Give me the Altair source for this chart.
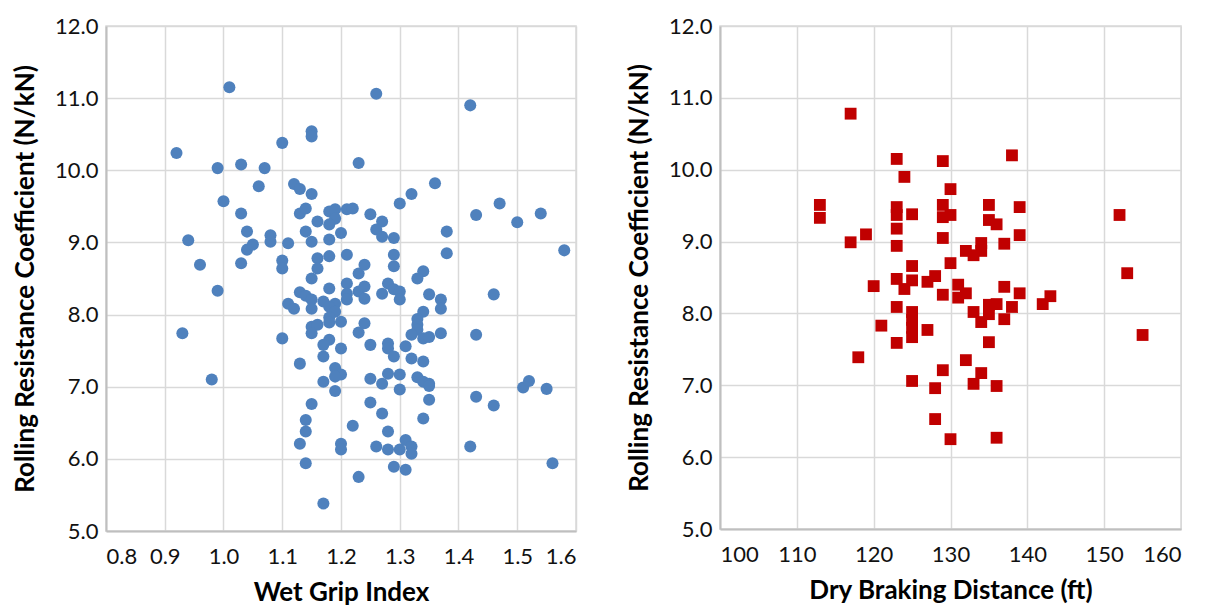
import altair as alt
import pandas as pd

# ---- Left panel: Wet Grip Index vs Rolling Resistance Coefficient ----
wgi = [0.92,0.94,0.93,0.96,0.98,0.99,0.99,1.00,1.01,1.03,
       1.03,1.03,1.04,1.04,1.05,1.06,1.07,1.08,1.08,1.10,
       1.10,1.10,1.11,1.10,1.11,1.12,1.12,1.13,1.15,1.15,
       1.13,1.14,1.15,1.18,1.19,1.19,1.16,1.18,1.20,1.18,
       1.21,1.22,1.14,1.15,1.21,1.18,1.16,1.16,1.15,1.23,
       1.18,1.13,1.14,1.15,1.15,1.17,1.19,1.18,1.19,1.21,
       1.21,1.21,1.23,1.23,1.26,1.42,1.36,1.32,1.30,1.47,
       1.43,1.50,1.54,1.38,1.38,1.58,1.25,1.27,1.26,1.27,
       1.29,1.29,1.29,1.24,1.34,1.33,1.28,1.27,1.29,1.30,
       1.30,1.24,1.24,1.35,1.37,1.37,1.46,1.20,1.18,1.18,
       1.15,1.16,1.15,1.34,1.33,1.33,1.33,1.24,1.23,1.32,
       1.34,1.35,1.37,1.43,1.25,1.28,1.28,1.29,1.31,1.32,
       1.34,1.18,1.17,1.17,1.20,1.13,1.19,1.20,1.19,1.17,
       1.19,1.25,1.27,1.28,1.30,1.33,1.34,1.35,1.35,1.30,
       1.35,1.43,1.46,1.51,1.52,1.55,1.25,1.27,1.34,1.22,
       1.28,1.20,1.20,1.26,1.28,1.30,1.31,1.32,1.32,1.42,
       1.29,1.31,1.23,1.56,1.17,1.15,1.14,1.14,1.13,1.14]
rrc_left = [10.24,9.03,7.74,8.69,7.10,8.33,10.03,9.57,11.15,10.08,
            9.40,8.71,9.15,8.90,8.97,9.78,10.03,9.10,9.01,10.38,
            8.75,8.64,8.99,7.67,8.15,8.08,9.81,9.74,10.54,10.47,
            9.40,9.47,9.67,9.43,9.46,9.33,9.29,9.25,9.13,9.04,
            9.46,9.47,9.15,9.01,8.83,8.81,8.78,8.64,8.50,8.57,
            8.36,8.31,8.26,8.21,8.08,8.18,8.15,8.11,8.04,8.43,
            8.29,8.21,8.32,10.10,11.06,10.90,9.82,9.67,9.54,9.54,
            9.38,9.28,9.40,9.15,8.85,8.89,9.39,9.29,9.18,9.08,
            9.06,8.83,8.67,8.69,8.60,8.50,8.43,8.29,8.35,8.32,
            8.21,8.39,8.22,8.28,8.21,8.08,8.28,7.90,7.96,7.89,
            7.83,7.86,7.74,8.04,7.94,7.86,7.79,7.88,7.75,7.72,
            7.67,7.69,7.74,7.72,7.58,7.60,7.53,7.42,7.56,7.39,
            7.35,7.65,7.58,7.42,7.53,7.32,7.26,7.17,7.14,7.07,
            6.94,7.11,7.04,7.18,7.17,7.13,7.07,7.04,7.01,6.96,
            6.82,6.86,6.74,6.99,7.08,6.97,6.78,6.63,6.56,6.46,
            6.38,6.21,6.13,6.17,6.13,6.13,6.26,6.17,6.07,6.17,
            5.89,5.85,5.75,5.94,5.38,6.76,6.54,6.38,6.21,5.94]

# ---- Right panel: Dry Braking Distance vs Rolling Resistance Coefficient ----
dbd = [117,123,129,124,113,113,123,123,125,129,
       129,130,123,119,117,123,129,125,123,125,
       127,128,124,120,129,138,130,135,139,135,
       136,139,137,152,132,133,134,134,130,153,
       137,139,131,132,131,143,142,135,136,123,
       121,125,125,125,125,127,123,118,129,125,
       128,128,130,133,135,134,138,137,135,155,
       132,134,133,136,136]
rrc_right = [10.78,10.15,10.12,9.90,9.51,9.33,9.48,9.37,9.38,9.51,
             9.34,9.73,9.18,9.10,8.99,8.94,9.05,8.66,8.48,8.46,
             8.44,8.52,8.34,8.38,8.26,10.20,9.37,9.51,9.48,9.30,
             9.24,9.09,8.97,9.37,8.87,8.81,8.98,8.87,8.70,8.56,
             8.37,8.28,8.40,8.28,8.22,8.24,8.13,8.12,8.13,8.09,
             7.83,8.02,7.91,7.80,7.67,7.77,7.59,7.39,7.21,7.06,
             6.96,6.53,6.25,8.02,7.99,7.88,8.09,7.92,7.60,7.70,
             7.35,7.17,7.02,6.99,6.27]

x_left_ticks = [0.8, 0.9, 1.0, 1.1, 1.2, 1.3, 1.4, 1.5, 1.6]
x_right_ticks = [100, 110, 120, 130, 140, 150, 160]
y_ticks = [5, 6, 7, 8, 9, 10, 11, 12]

y_title = "Rolling Resistance Coefficient (N/kN)"
FONT = "Lato"

left_df = pd.DataFrame({"wgi": wgi, "rrc": rrc_left})
right_df = pd.DataFrame({"dbd": dbd, "rrc": rrc_right})


def y_enc():
    return alt.Y(
        "rrc:Q",
        scale=alt.Scale(domain=[5, 12], nice=False, zero=False),
        axis=alt.Axis(values=y_ticks, format=".1f", title=y_title,
                      titlePadding=16),
    )


left = alt.Chart(left_df).mark_circle(size=145, color="#4F81BD", opacity=1).encode(
    x=alt.X("wgi:Q",
            scale=alt.Scale(domain=[0.8, 1.6], nice=False, zero=False),
            axis=alt.Axis(values=x_left_ticks, format=".1f",
                          title="Wet Grip Index", titlePadding=12,
                          labelPadding=15)),
    y=y_enc(),
).properties(width=470, height=505)

right = alt.Chart(right_df).mark_square(size=140, color="#C00000", opacity=1).encode(
    x=alt.X("dbd:Q",
            scale=alt.Scale(domain=[100, 160], nice=False, zero=False),
            axis=alt.Axis(values=x_right_ticks, format="d",
                          title="Dry Braking Distance (ft)", titlePadding=12,
                          labelPadding=15)),
    y=y_enc(),
).properties(width=461, height=503)

chart = alt.hconcat(left, right, spacing=48).properties(
    padding={"left": 3, "top": 6, "right": 0, "bottom": 0}
).configure_axis(
    grid=True,
    gridColor="#d9d9d9",
    gridWidth=1.5,
    domainColor="#bfbfbf",
    domainWidth=2,
    ticks=False,
    labelFont=FONT,
    labelFontSize=22,
    labelColor="#111111",
    labelPadding=8,
    titleFont=FONT,
    titleFontSize=26,
    titleFontWeight="bold",
    titleColor="#000000",
).configure_view(stroke="#d9d9d9", strokeWidth=1.5)

chart.save("out.html", embed_options={"renderer": "svg", "actions": False})
